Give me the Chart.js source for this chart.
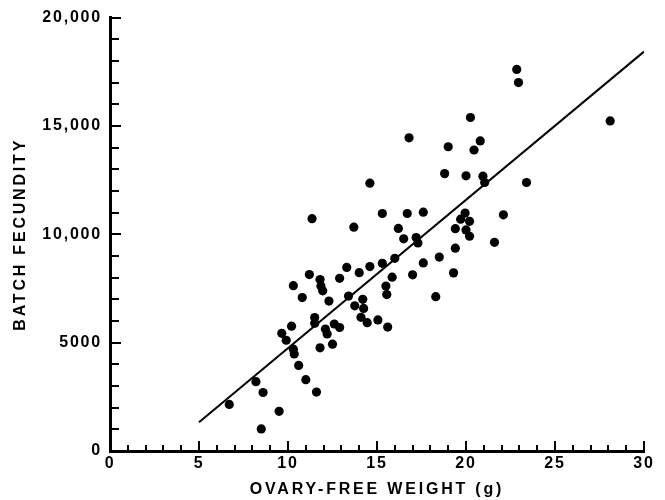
<!DOCTYPE html>
<html>
<head>
<meta charset="utf-8">
<script src="https://cdn.jsdelivr.net/npm/chart.js@4/dist/chart.umd.min.js"></script>
<style>
html,body{margin:0;padding:0;background:#fff;}
#wrap{width:665px;height:500px;}
</style>
</head>
<body>
<div id="wrap"><canvas id="c" width="665" height="500"></canvas></div>
<script>
// Ovary-free weight (g)
const weights = [6.7,8.2,8.6,8.5,9.5,9.65,9.9,10.2,10.3,10.35,10.6,11.0,11.6,10.3,10.8,11.2,11.8,11.85,11.95,11.5,11.5,12.3,11.8,12.1,12.2,12.5,12.6,12.9,12.9,13.3,13.4,14.0,14.2,13.75,14.25,14.1,14.45,14.6,15.3,15.05,15.6,15.5,15.55,15.85,16.0,17.0,17.6,18.5,19.3,18.3,19.4,21.6,16.5,17.2,17.3,18.8,20.0,20.95,21.05,23.4,17.6,22.1,19.95,19.7,20.2,19.4,20.0,20.2,19.0,20.45,20.8,22.85,22.95,28.1,20.25,16.8,15.3,16.7,16.2,11.35,14.6,13.7];
// Batch fecundity
const fecundity = [2150,3200,2700,1020,1830,5430,5110,5760,4700,4480,3950,3290,2720,7630,7080,8140,7910,7610,7390,6160,5890,6920,4760,5630,5400,4930,5860,5700,7970,8470,7150,8230,7000,6700,6580,6170,5920,8510,8660,6050,5720,7610,7220,8020,8890,8130,8680,8950,8220,7120,9360,9630,9790,9850,9600,12800,12700,12680,12390,12390,11020,10900,10980,10700,10600,10260,10200,9910,14040,13890,14310,17610,17000,15230,15390,14450,10960,10960,10270,10720,12360,10330];
// Regression line end points
const fitX = [5, 30];
const fitY = [1330, 18430];
// Tick labels
const xTickValues = [0,5,10,15,20,25,30];
const xTickLabels = ['0','5','10','15','20','25','30'];
const yTickValues = [0,5000,10000,15000,20000];
const yTickLabels = ['0','5000','10,000','15,000','20,000'];

const FONT = "'Liberation Sans', Arial, Helvetica, sans-serif";
const TICK_SPACING = '1.8px';
const TITLE_SPACING = '2.8px';

const styling = {
  id: 'styling',
  afterLayout(chart){
    Object.values(chart.scales).forEach(s => {
      if (s._wrappedTitle) return;
      const orig = s.drawTitle;
      s.drawTitle = function(){
        const ctx = this.ctx;
        ctx.letterSpacing = TITLE_SPACING;
        orig.apply(this, arguments);
        ctx.letterSpacing = TICK_SPACING;
      };
      s._wrappedTitle = true;
    });
  },
  beforeDraw(chart){ chart.ctx.letterSpacing = TICK_SPACING; },
  afterDatasetsDraw(chart){
    const ctx = chart.ctx, xs = chart.scales.x, ys = chart.scales.y;
    ctx.save();
    ctx.strokeStyle = '#000';
    ctx.lineWidth = 2;
    ctx.beginPath();
    for (let v = 0; v <= 20000; v += 1000) {
      const py = Math.round(ys.getPixelForValue(v));
      const len = (v % 5000 === 0) ? 11 : 9;
      ctx.moveTo(xs.left, py); ctx.lineTo(xs.left + len, py);
    }
    for (let v = 0; v <= 30; v += 1) {
      const px = Math.round(xs.getPixelForValue(v));
      const len = (v % 5 === 0) ? 10 : 6;
      ctx.moveTo(px, ys.bottom); ctx.lineTo(px, ys.bottom - len);
    }
    ctx.stroke();
    ctx.restore();
  }
};

new Chart(document.getElementById('c'), {
  type: 'scatter',
  data: {
    datasets: [
      {
        type: 'scatter',
        data: weights.map((w,i)=>({x:w, y:fecundity[i]})),
        backgroundColor: '#000',
        borderColor: '#000',
        pointRadius: 4.6,
        pointHoverRadius: 4.6,
        borderWidth: 0
      },
      {
        type: 'line',
        data: fitX.map((x,i)=>({x:x, y:fitY[i]})),
        borderColor: '#000',
        borderWidth: 2,
        pointRadius: 0,
        fill: false,
        tension: 0
      }
    ]
  },
  options: {
    responsive: false,
    animation: false,
    events: [],
    layout: { padding: { top: 14, right: 21, left: 0, bottom: 0 } },
    plugins: { legend: { display: false }, tooltip: { enabled: false } },
    scales: {
      x: {
        type: 'linear', min: 0, max: 30,
        afterBuildTicks(s){ s.ticks = xTickValues.map(v=>({value:v})); },
        afterFit(s){ s.height = 49; },
        ticks: {
          color: '#000', padding: 3,
          font: { family: FONT, size: 16, weight: 'bold' },
          callback: (v) => xTickLabels[xTickValues.indexOf(v)],
          maxRotation: 0
        },
        grid: { display: false, drawTicks: false },
        border: { display: true, color: '#000', width: 3 },
        title: {
          display: true, text: 'OVARY-FREE WEIGHT (g)', color: '#000',
          font: { family: FONT, size: 16, weight: 'bold' },
          padding: { top: 0, bottom: 1 }
        }
      },
      y: {
        type: 'linear', min: 0, max: 20000,
        afterBuildTicks(s){ s.ticks = yTickValues.map(v=>({value:v})); },
        afterFit(s){ s.width = 110; },
        ticks: {
          color: '#000', padding: 8,
          font: { family: FONT, size: 16, weight: 'bold' },
          callback: (v) => yTickLabels[yTickValues.indexOf(v)]
        },
        grid: { display: false, drawTicks: false },
        border: { display: true, color: '#000', width: 3 },
        title: {
          display: true, text: 'BATCH FECUNDITY', color: '#000',
          font: { family: FONT, size: 16, weight: 'bold' },
          padding: { top: 11, bottom: 0 }
        }
      }
    }
  },
  plugins: [styling]
});
</script>
</body>
</html>
